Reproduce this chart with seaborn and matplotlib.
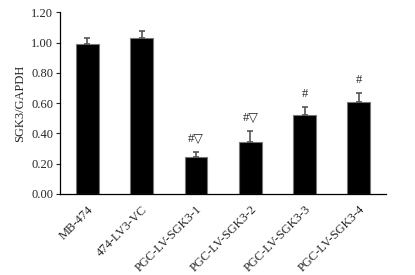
import pandas as pd
import matplotlib
matplotlib.use("Agg")
import matplotlib.pyplot as plt
import seaborn as sns

groups = ["MB-474", "474-LV3-VC", "PGC-LV-SGK3-1", "PGC-LV-SGK3-2", "PGC-LV-SGK3-3", "PGC-LV-SGK3-4"]
means = [0.99, 1.03, 0.245, 0.345, 0.52, 0.61]
errs = [0.04, 0.045, 0.03, 0.07, 0.055, 0.06]
marks = ["", "", "#▽", "#▽", "#", "#"]

sns.set_style("white")
plt.rcParams["font.family"] = ["Liberation Serif", "DejaVu Serif"]

df = pd.DataFrame({"group": groups, "value": means})

fig, ax = plt.subplots(figsize=(4.15, 2.75), dpi=100)
sns.barplot(data=df, x="group", y="value", color="black", width=0.42,
            errorbar=None, edgecolor="#777777", linewidth=0.8, ax=ax)
ax.errorbar(range(len(groups)), means, yerr=[[0] * len(errs), errs],
            fmt="none", ecolor="#555555", elinewidth=1.2, capsize=2.5, capthick=1.2)
for i, (m, e, t) in enumerate(zip(means, errs, marks)):
    if t:
        ax.text(i, m + e + 0.045, t, ha="center", va="bottom", fontsize=9,
                family=["Liberation Serif", "DejaVu Sans"])

ax.set_xlim(-0.5, 5.5)
ax.set_ylim(0, 1.2)
ax.set_yticks([0, 0.2, 0.4, 0.6, 0.8, 1.0, 1.2])
ax.set_yticklabels([f"{v:.2f}" for v in ax.get_yticks()], fontsize=9)
ax.set_xticks(range(len(groups)))
ax.set_xticklabels(groups, rotation=45, ha="right", rotation_mode="anchor", fontsize=9)
ax.tick_params(axis="x", length=0, pad=7)
ax.set_xticks([i + 0.5 for i in range(len(groups) - 1)], minor=True)
ax.tick_params(axis="x", which="minor", direction="in", length=3, width=0.8)
ax.tick_params(axis="y", direction="out", length=3, width=0.8, left=True, pad=2)
ax.set_xlabel("")
ax.set_ylabel("SGK3/GAPDH", fontsize=9, labelpad=4)
sns.despine(ax=ax)
for s in ["left", "bottom"]:
    ax.spines[s].set_color("black")
    ax.spines[s].set_linewidth(0.9)

fig.subplots_adjust(left=0.145, right=0.93, top=0.955, bottom=0.295)
fig.savefig("out.png")
